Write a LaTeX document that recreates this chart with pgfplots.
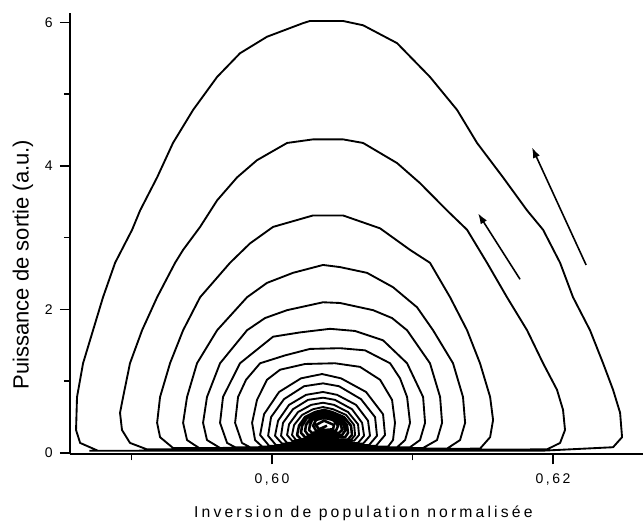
\documentclass[border=0pt]{standalone}
\usepackage{fontspec}
\setmainfont{Liberation Sans}
\usepackage{pgfplots}
\pgfplotsset{compat=1.18}
\usetikzlibrary{arrows.meta}

\begin{document}
\begin{tikzpicture}
\begin{axis}[
    name=ax,
    scale only axis,
    width=429.75pt, height=331pt,
    xmin=0.58562, xmax=0.6264,
    ymin=-0.02, ymax=6.13,
    axis x line=bottom, axis y line=left,
    axis line style={-, line width=1.4pt},
    xtick={0.60,0.62}, xticklabels={{0,60},{0,62}},
    minor xtick={0.59,0.61},
    ytick={0,2,4,6}, yticklabels={},
    minor ytick={1,3,5},
    tick align=outside,
    major tick length=7.5pt, minor tick length=4.5pt,
    tick style={line width=1.1pt, black},
    /pgf/number format/assume math mode=true,
    xticklabel style={font=\fontsize{10.5}{12}\selectfont\addfontfeatures{LetterSpace=18}, inner sep=0pt, anchor=north, yshift=-6.5pt},
    xlabel={\addfontfeatures{LetterSpace=20}Inversion de population normalisée},
    xlabel style={font=\fontsize{11.8}{14}\selectfont, at={(axis description cs:0.512,0)}, anchor=base, yshift=-47pt},
    ylabel={Puissance de sortie (a.u.)},
    ylabel style={font=\fontsize{16.5}{19}\selectfont, at={(axis description cs:0,0.43)}, anchor=base, yshift=31pt},
    clip=false,
]

% trajectoire (spirale vers le point fixe)
\addplot[black, line width=1.4pt, line join=round, mark=none] coordinates {
(0.5870,0.03)
(0.61907,0.03) (0.62427,0.08) (0.62491,0.22) (0.62477,0.56) (0.62427,0.88) (0.62356,1.25) (0.62263,1.71) (0.62142,2.17) (0.62050,2.65) (0.61929,3.11) (0.61815,3.38) (0.61644,3.84) (0.61459,4.32) (0.61317,4.78) (0.61124,5.24) (0.60890,5.71) (0.60648,5.96) (0.60505,6.02) (0.60270,6.02) (0.60221,5.99) (0.59964,5.80) (0.59772,5.57) (0.59609,5.24) (0.59438,4.78) (0.59295,4.32) (0.59182,3.84) (0.59061,3.38) (0.59004,3.11) (0.58883,2.65) (0.58797,2.17) (0.58726,1.71) (0.58655,1.25) (0.58612,0.78) (0.58605,0.32) (0.58634,0.14) (0.58762,0.03)
(0.61957,0.05) (0.62050,0.14) (0.62085,0.32) (0.62071,0.60) (0.62028,0.88) (0.61929,1.25) (0.61815,1.71) (0.61672,2.17) (0.61530,2.65) (0.61388,3.11) (0.61245,3.38) (0.61053,3.76) (0.60890,4.04) (0.60648,4.32) (0.60505,4.37) (0.60292,4.37) (0.60107,4.32) (0.59893,4.08) (0.59751,3.84) (0.59609,3.52) (0.59488,3.15) (0.59367,2.83) (0.59310,2.65) (0.59182,2.17) (0.59075,1.71) (0.58989,1.25) (0.58940,0.78) (0.58918,0.56) (0.58932,0.32) (0.58989,0.14) (0.59110,0.05)
(0.61480,0.06) (0.61552,0.22) (0.61573,0.46) (0.61552,0.78) (0.61480,1.25) (0.61388,1.71) (0.61267,2.17) (0.61124,2.65) (0.60982,2.83) (0.60769,3.13) (0.60505,3.31) (0.60292,3.31) (0.60007,3.15) (0.59843,2.92) (0.59701,2.65) (0.59488,2.17) (0.59367,1.71) (0.59274,1.25) (0.59203,0.78) (0.59182,0.42) (0.59203,0.22) (0.59295,0.07)
(0.61245,0.06) (0.61338,0.18) (0.61374,0.42) (0.61359,0.78) (0.61288,1.25) (0.61146,1.71) (0.61032,2.03) (0.60861,2.31) (0.60676,2.51) (0.60484,2.59) (0.60363,2.62) (0.60149,2.51) (0.59964,2.37) (0.59822,2.17) (0.59609,1.71) (0.59466,1.25) (0.59395,0.78) (0.59367,0.42) (0.59395,0.18) (0.59488,0.06)
(0.61075,0.07) (0.61174,0.18) (0.61210,0.42) (0.61196,0.78) (0.61124,1.25) (0.60961,1.71) (0.60854,1.88) (0.60719,1.99) (0.60484,2.09) (0.60363,2.10) (0.60107,1.99) (0.59950,1.88) (0.59822,1.71) (0.59630,1.25) (0.59537,0.78) (0.59509,0.42) (0.59537,0.18) (0.59630,0.07)
(0.60982,0.08) (0.61053,0.18) (0.61089,0.42) (0.61075,0.78) (0.60961,1.25) (0.60790,1.57) (0.60591,1.70) (0.60413,1.73) (0.60199,1.68) (0.60007,1.62) (0.59772,1.25) (0.59651,0.78) (0.59630,0.42) (0.59680,0.14) (0.59737,0.08)
(0.60890,0.08) (0.60947,0.18) (0.60982,0.42) (0.60961,0.78) (0.60911,1.04) (0.60840,1.25) (0.60662,1.43) (0.60484,1.46) (0.60270,1.45) (0.60093,1.36) (0.59915,1.25) (0.59815,1.02) (0.59758,0.78) (0.59737,0.42) (0.59786,0.14) (0.59843,0.08)
(0.60826,0.09) (0.60861,0.18) (0.60875,0.42) (0.60854,0.74) (0.60769,1.02) (0.60626,1.20) (0.60448,1.25) (0.60235,1.24) (0.60057,1.16) (0.59964,1.02) (0.59893,0.74) (0.59858,0.42) (0.59879,0.18) (0.59929,0.09)
(0.60740,0.10) (0.60804,0.25) (0.60790,0.54) (0.60669,0.85) (0.60491,1.04) (0.60356,1.10) (0.60206,1.04) (0.60050,0.85) (0.59943,0.54) (0.59915,0.25) (0.59979,0.10)
(0.60690,0.11) (0.60747,0.24) (0.60733,0.50) (0.60633,0.75) (0.60477,0.93) (0.60363,0.97) (0.60228,0.93) (0.60085,0.75) (0.59993,0.50) (0.59972,0.24) (0.60028,0.11)
(0.60648,0.13) (0.60697,0.24) (0.60683,0.45) (0.60598,0.67) (0.60463,0.81) (0.60363,0.85) (0.60242,0.81) (0.60121,0.67) (0.60043,0.45) (0.60021,0.24) (0.60071,0.13)
(0.60612,0.14) (0.60655,0.24) (0.60641,0.42) (0.60569,0.61) (0.60448,0.74) (0.60363,0.77) (0.60256,0.74) (0.60149,0.61) (0.60078,0.42) (0.60064,0.24) (0.60107,0.14)
(0.60584,0.17) (0.60619,0.25) (0.60612,0.40) (0.60541,0.57) (0.60441,0.67) (0.60363,0.70) (0.60278,0.67) (0.60185,0.57) (0.60121,0.40) (0.60107,0.25) (0.60142,0.17)
(0.60562,0.18) (0.60591,0.25) (0.60584,0.39) (0.60527,0.53) (0.60434,0.61) (0.60363,0.64) (0.60292,0.61) (0.60214,0.53) (0.60157,0.39) (0.60142,0.25) (0.60171,0.18)
(0.60541,0.19)
};
% boucles internes, tres serrees
\addplot[black, line width=1.9pt, line join=round, mark=none] coordinates {
(0.60541,0.19) (0.60569,0.25) (0.60562,0.38) (0.60512,0.50) (0.60427,0.57) (0.60370,0.60) (0.60306,0.57) (0.60235,0.50) (0.60192,0.38) (0.60178,0.25) (0.60206,0.19)
(0.60520,0.22) (0.60541,0.28) (0.60534,0.38) (0.60491,0.49) (0.60420,0.54) (0.60370,0.57) (0.60313,0.54) (0.60249,0.49) (0.60214,0.38) (0.60206,0.28) (0.60235,0.22)
(0.60498,0.25) (0.60520,0.31) (0.60512,0.39) (0.60477,0.47) (0.60413,0.53) (0.60370,0.54) (0.60320,0.53) (0.60270,0.47) (0.60242,0.39) (0.60235,0.31) (0.60256,0.25)
(0.60477,0.28) (0.60498,0.32) (0.60491,0.39) (0.60455,0.46) (0.60406,0.50) (0.60370,0.52) (0.60327,0.50) (0.60285,0.46) (0.60270,0.39) (0.60263,0.32) (0.60285,0.28)
(0.60455,0.31) (0.60470,0.38) (0.60434,0.46) (0.60370,0.49) (0.60313,0.46) (0.60292,0.38) (0.60313,0.31)
(0.60434,0.33) (0.60441,0.39) (0.60370,0.45) (0.60313,0.39) (0.60334,0.33) (0.60391,0.38)
};

% fleches de sens de parcours
\addplot[black, line width=1.2pt, -{Latex[length=8pt,width=5.5pt]}] coordinates {(0.61765,2.42) (0.61466,3.34)};
\addplot[black, line width=1.2pt, -{Latex[length=8pt,width=5.5pt]}] coordinates {(0.62235,2.62) (0.61850,4.26)};

% graduations de l'axe vertical
\pgfplotsinvokeforeach{0,2,4,6}{
  \node[anchor=east, inner sep=0pt, xshift=-12.75pt, font=\fontsize{10.5}{12}\selectfont] at (axis cs:0.58562,#1) {#1};
}

\end{axis}
\pgfresetboundingbox
\path (ax.south west) ++(-52.5pt,-50.7pt) rectangle ++(482.25pt,391.5pt);
\end{tikzpicture}
\end{document}
